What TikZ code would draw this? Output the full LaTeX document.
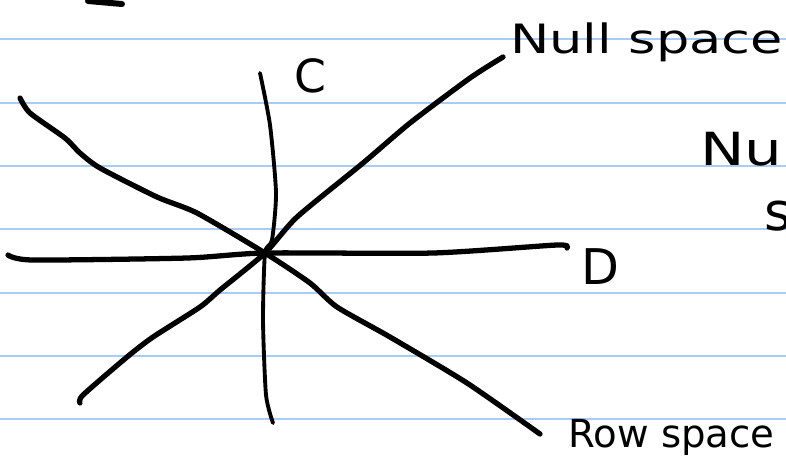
\documentclass[tikz,border=0pt]{standalone}
\usepackage{fontspec}
\usepackage{graphicx}
\newfontfamily\handfont{DejaVu Sans}
\usepackage{xcolor}
\definecolor{ruleBlue}{HTML}{A7CDF5}
\definecolor{inkBlack}{HTML}{000000}
\usetikzlibrary{positioning}
\tikzset{
    % Ruled lines of the notebook page
    paper rule/.style={
        draw=ruleBlue,
        line width=1.2pt,
    },
    % Pen strokes
    pen/.style={
        draw=inkBlack,
        line width=3pt,
        line cap=round,
        line join=round,
    },
    % Thinner pen stroke
    pen thin/.style={
        pen,
        line width=2.2pt,
    },
    % Handwritten labels
    hand label/.style={
        font=\handfont\fontsize{#1}{#1}\selectfont,
        text=inkBlack,
        inner sep=0pt,
    },
    hand label/.default=23,
}

\begin{document}
\begin{tikzpicture}[x=0.02cm, y=-0.02cm]
    \useasboundingbox (0,0) rectangle (786,458);
    \clip (0,0) rectangle (786,458);
    \fill[white] (0,0) rectangle (786,458);
    \foreach \y in {39,103,166,229,293,356,419}
        \draw[paper rule] (0,\y) -- (786,\y);

    \coordinate (o) at (265,253);

    % D axis
    \draw[pen] plot[smooth, tension=0.4] coordinates {(8,255) (33,260) (187,258) (o) (433,253) (557,245) (567,248)};
    % C axis
    \draw[pen thin] plot[smooth, tension=0.4] coordinates {(260,73) (270,125) (276,193) (272,240) (o) (263,320) (266,395) (273,423)};
    % row space
    \draw[pen] plot[smooth, tension=0.4] coordinates {(20,98) (30,113) (65,138) (80,153) (100,168) (157,197) (197,213) (o) (310,283) (337,307) (390,337) (467,383) (540,434)};
    % null space
    \draw[pen] plot[smooth, tension=0.4] coordinates {(80,403) (83,395) (127,357) (153,337) (200,307) (220,290) (o) (297,217) (363,163) (410,123) (470,78) (503,57)};
    % stray stroke at the top
    \draw[pen, line width=3.4pt] (88,1) -- (122,4);

    \node[hand label, anchor=base west] (null_label) at (510,53) {\scalebox{1.3}[1]{Null space}};
    \node[hand label=22, anchor=base west] (row_label) at (568,447) {Row space};
    \node[hand label=26] (c_label) at (310,76) {C};
    \node[hand label=28] (d_label) at (600,267) {D};
    \node[hand label=26, anchor=base west] (nul_cut) at (700,165) {\scalebox{1.3}[1]{Nul}};
    \node[hand label=30, anchor=base west] (s_cut) at (764,230) {s};
\end{tikzpicture}
\end{document}
